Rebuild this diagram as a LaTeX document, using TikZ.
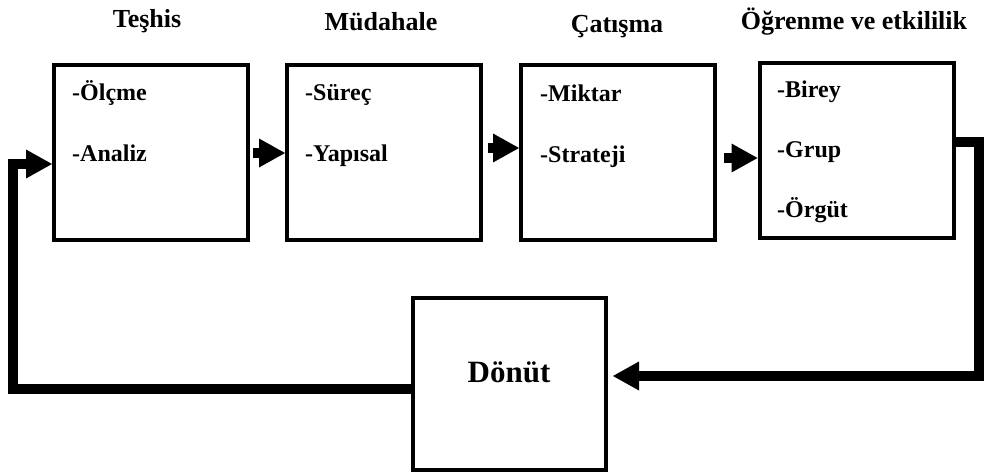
\documentclass[tikz,border=0pt]{standalone}
\usepackage{fontspec}
\setmainfont{Liberation Serif}
\usetikzlibrary{arrows.meta}
\begin{document}
\begin{tikzpicture}[x=1pt,y=-1pt,
  box/.style={draw, line width=4pt, minimum width=194pt, minimum height=175pt, inner sep=0pt},
  title/.style={font=\fontsize{26}{30}\selectfont\bfseries, anchor=base, inner sep=0pt},
  item/.style={font=\fontsize{24}{28}\selectfont\bfseries, anchor=base west, inner sep=0pt},
  conn/.style={line width=10pt, line join=miter, -{Triangle[length=26pt,width=29pt,line width=0pt]}}
]
\useasboundingbox (0,0) rectangle (984,473);

% boxes
\node[box] (b1) at (151,152.5) {};
\node[box] (b2) at (384,152.5) {};
\node[box] (b3) at (618,152.5) {};
\node[box] (b4) at (856.5,150.5) {};
\node[box, minimum width=193pt, minimum height=172pt] (dn) at (509.5,384) {};

% titles
\node[title] (t1) at (147,28) {Teşhis};
\node[title] (t2) at (381,31) {Müdahale};
\node[title] (t3) at (617,33) {Çatışma};
\node[title] (t4) at (854,30) {Öğrenme ve etkililik};

% items
\node[item] (i11) at (72,101) {-Ölçme};
\node[item] (i12) at (72,161) {-Analiz};
\node[item] (i21) at (305,101) {-Süreç};
\node[item] (i22) at (305,161) {-Yapısal};
\node[item] (i31) at (540,102) {-Miktar};
\node[item] (i32) at (540,163) {-Strateji};
\node[item] (i41) at (777,98) {-Birey};
\node[item] (i42) at (777,158) {-Grup};
\node[item] (i43) at (777,217) {-Örgüt};

\node[font=\fontsize{31}{36}\selectfont\bfseries, anchor=base, inner sep=0pt] (dt) at (509,382) {Dönüt};

% arrows between boxes
\draw[conn] ([xshift=3pt,yshift=-0.5pt]b1.east) -- ([yshift=-0.5pt]b2.west);
\draw[conn] ([xshift=5pt,yshift=4.5pt]b2.east) -- ([yshift=4.5pt]b3.west);
\draw[conn] ([xshift=7pt,yshift=-5.5pt]b3.east) -- ([yshift=-7.5pt]b4.west);

% feedback loop
\coordinate (c1) at (979,142);
\coordinate (c2) at (979,376);
\coordinate (c3) at (13,389);
\coordinate (c4) at (13,164);
\draw[conn] ([yshift=8.5pt]b4.east) -- (c1) -- (c2) -- ([xshift=5pt,yshift=8pt]dn.east);
\draw[conn] ([yshift=-5pt]dn.west) -- (c3) -- (c4) -- ([yshift=-11.5pt]b1.west);
\end{tikzpicture}
\end{document}
